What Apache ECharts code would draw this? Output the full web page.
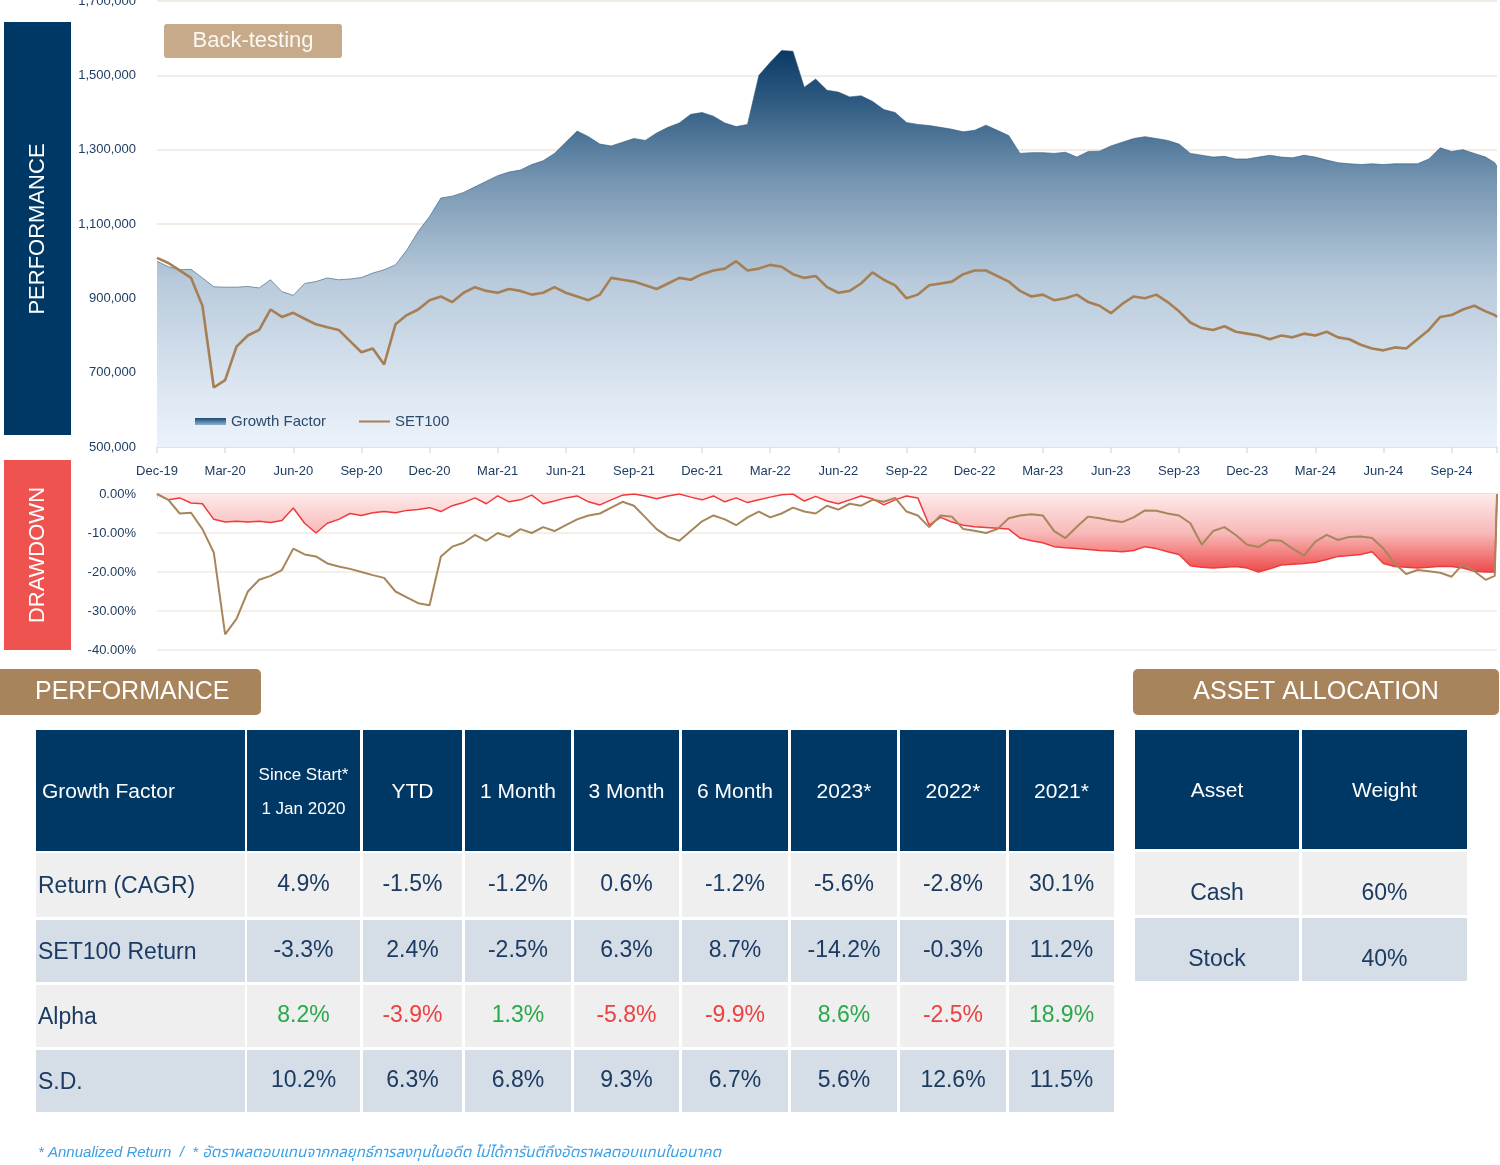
<!DOCTYPE html>
<html>
<head>
<meta charset="utf-8">
<script src="https://cdn.jsdelivr.net/npm/echarts@6/dist/echarts.min.js"></script>
<style>
html,body{margin:0;padding:0;background:#fff;}
#main{width:1500px;height:1165px;}
</style>
</head>
<body>
<div id="main"></div>
<script>
// ---------- DATA ----------
// x position in months after 31-Dec-2019
const months = [0,0.5,1,1.5,2,2.5,3,3.5,4,4.5,5,5.5,6,6.5,7,7.5,8,8.5,9,9.5,
10,10.5,11,11.5,12,12.5,13,13.5,14,14.5,15,15.5,16,16.5,17,17.5,18,18.5,19,19.5,
20,20.5,21,21.5,22,22.5,23,23.5,24,24.5,25,25.5,26,26.5,27,27.5,28,28.5,29,29.5,
30,30.5,31,31.5,32,32.5,33,33.5,34,34.5,35,35.5,36,36.5,37,37.5,38,38.5,39,39.5,
40,40.5,41,41.5,42,42.5,43,43.5,44,44.5,45,45.5,46,46.5,47,47.5,48,48.5,49,49.5,
50,50.5,51,51.5,52,52.5,53,53.5,54,54.5,55,55.5,56,56.5,57,57.5,58,58.5,58.9,59];

const quarterLabels = ['Dec-19','Mar-20','Jun-20','Sep-20','Dec-20','Mar-21','Jun-21','Sep-21','Dec-21','Mar-22',
'Jun-22','Sep-22','Dec-22','Mar-23','Jun-23','Sep-23','Dec-23','Mar-24','Jun-24','Sep-24'];

// Performance (thousand THB)
const growthFactor = [1000,985,977,978,955,931,930,930,932,928,
950,918,908,940,945,955,950,952,956,968,
977,990,1030,1080,1120,1170,1175,1185,1200,1215,
1230,1240,1245,1260,1270,1290,1320,1350,1335,1315,
1310,1320,1330,1325,1345,1360,1372,1395,1400,1390,
1372,1362,1368,1500,1535,1567,1565,1468,1490,1460,
1455,1442,1445,1430,1408,1400,1373,1368,1365,1360,
1355,1348,1352,1366,1352,1338,1290,1292,1292,1290,
1293,1280,1295,1296,1310,1320,1330,1335,1330,1325,
1315,1290,1285,1280,1282,1275,1275,1280,1285,1280,
1278,1285,1280,1272,1265,1262,1260,1262,1260,1262,
1262,1262,1275,1305,1295,1300,1290,1280,1265,1255];

const set100 = [1009,995,975,955,880,660,680,770,800,815,
870,850,861,845,830,822,815,785,755,765,
722,830,855,870,895,905,890,915,930,920,
915,925,920,910,915,930,915,905,895,910,
955,950,945,935,925,940,955,950,965,975,
980,1000,975,980,990,985,965,955,960,930,
915,920,940,970,950,935,900,910,935,940,
945,965,975,975,960,945,920,905,910,895,
900,910,890,880,860,885,905,900,910,890,
865,835,820,815,825,810,805,800,790,800,
795,805,800,810,795,790,775,765,760,768,
765,790,815,850,855,870,880,865,855,850];

// Drawdown (%)
const ddGrowthFactor = [0,-1.5,-1.0,-2.3,-2.5,-6.5,-7.2,-7.0,-7.2,-7.0,
-7.3,-6.8,-3.6,-7.5,-10.0,-7.5,-6.5,-5.0,-5.5,-4.8,
-4.5,-4.8,-4.2,-4.0,-3.5,-4.5,-3.0,-2.2,-1.0,-2.5,
-0.5,-2.0,-1.5,-0.3,-2.5,-1.8,-1.0,-0.5,-2.0,-2.8,
-1.5,-0.3,0,-0.5,-1.2,-0.5,0,-0.8,-1.5,-0.5,
-2.0,-1.0,-2.2,-1.5,-0.8,-0.2,0,-1.8,-0.6,-1.8,
-2.5,-1.5,-0.5,-1.2,-2.8,-1.5,-0.5,-1.0,-8.0,-6.0,
-7.2,-8.0,-8.4,-8.6,-8.8,-9.0,-11.3,-12.0,-12.5,-13.5,
-13.8,-14.0,-14.2,-14.5,-14.6,-14.8,-14.5,-13.5,-14.0,-14.8,
-15.5,-18.4,-18.8,-19.0,-18.8,-18.6,-19.0,-20.0,-19.2,-18.2,
-18.0,-17.8,-17.5,-16.8,-16.0,-15.8,-15.5,-14.8,-17.8,-18.6,
-18.8,-19.0,-18.8,-18.5,-18.6,-19.0,-19.8,-20.0,-20.0,0];

const ddSet100 = [0,-1.5,-5.0,-4.8,-9.0,-15.0,-36.0,-32.0,-25.0,-22.0,
-21.0,-19.5,-14.0,-15.5,-16.0,-17.8,-18.6,-19.2,-20.0,-20.8,
-21.5,-25.0,-26.5,-28.0,-28.5,-16.0,-13.5,-12.5,-10.5,-12.0,
-10.0,-11.0,-9.0,-10.0,-8.5,-9.5,-8.0,-6.5,-5.5,-5.0,
-3.5,-2.0,-3.0,-6.0,-9.0,-11.0,-12.0,-9.5,-7.0,-5.5,
-6.5,-8.0,-6.0,-4.5,-6.0,-5.0,-3.5,-4.5,-5.0,-3.0,
-4.0,-2.5,-3.0,-1.5,-2.0,-1.0,-4.5,-5.5,-8.5,-5.5,
-5.8,-9.0,-9.4,-10.0,-9.0,-6.2,-5.5,-5.2,-5.5,-9.5,
-11.3,-8.4,-5.8,-6.2,-6.8,-7.2,-6.0,-4.2,-4.3,-5.0,
-5.5,-7.5,-13.0,-9.5,-8.5,-10.5,-13.0,-13.6,-11.8,-12.0,
-14.0,-15.8,-12.2,-10.5,-11.8,-11.0,-10.9,-11.3,-14.0,-17.8,
-20.5,-19.5,-19.8,-20.2,-21.2,-18.0,-19.8,-22.0,-21.0,0];

// Tables
const perfHeaders = ['Growth Factor','Since Start*','YTD','1 Month','3 Month','6 Month','2023*','2022*','2021*'];
const sinceStartSub = '1 Jan 2020';
const rowLabels = ['Return (CAGR)','SET100 Return','Alpha','S.D.'];
const returnRow = ['4.9%','-1.5%','-1.2%','0.6%','-1.2%','-5.6%','-2.8%','30.1%'];
const set100Row = ['-3.3%','2.4%','-2.5%','6.3%','8.7%','-14.2%','-0.3%','11.2%'];
const alphaRow  = ['8.2%','-3.9%','1.3%','-5.8%','-9.9%','8.6%','-2.5%','18.9%'];
const sdRow     = ['10.2%','6.3%','6.8%','9.3%','6.7%','5.6%','12.6%','11.5%'];
const assetHeaders = ['Asset','Weight'];
const assetNames = ['Cash','Stock'];
const assetWeights = ['60%','40%'];

// ---------- RENDER ----------
const FONT = '"Liberation Sans", Arial, Helvetica, sans-serif';
const NAVY = '#003865';
const TXT = '#1b3b62';
const chart = echarts.init(document.getElementById('main'), null, {renderer:'canvas'});
const LG = echarts.graphic.LinearGradient;

function fmtComma(v){ return String(Math.round(v)).replace(/\B(?=(\d{3})+(?!\d))/g, ','); }

const gfData = months.map((m,i)=>[m, growthFactor[i]*1000]);
const setData = months.map((m,i)=>[m, set100[i]*1000]);
const ddGfData = months.map((m,i)=>[m, ddGrowthFactor[i]]);
const ddSetData = months.map((m,i)=>[m, ddSet100[i]]);

const els = [];
function rect(x,y,w,h,fill,r){ els.push({type:'rect', silent:true, shape:{x,y,width:w,height:h,r:r||0}, style:{fill}}); }
function text(x,y,t,font,fill,align,extra){
  els.push(Object.assign({type:'text', silent:true, x, y, style:{text:t, font, fill, align:align||'center', verticalAlign:'middle'}}, extra||{}));
}

// side labels
rect(4,22,67,413,NAVY);
text(38,229,'PERFORMANCE','22px '+FONT,'#ffffff','center',{rotation:Math.PI/2});
rect(4,460,67,190,'#ef5350');
text(38,555,'DRAWDOWN','22px '+FONT,'#ffffff','center',{rotation:Math.PI/2});

// back-testing badge
rect(164,24,178,34,'#c6aa89',3);
text(253,41,'Back-testing','22px '+FONT,'#fbf7f2');
text(1312,425,'Model Data as of 30 Nov 2024','15px '+FONT,'#b7bdc4');

// section headers
rect(0,669,261,46,'#a8845c',[0,5,5,0]);
text(35,692,'PERFORMANCE','25px '+FONT,'#ffffff','left');
rect(1133,669,366,46,'#a8845c',5);
text(1316,692,'ASSET ALLOCATION','25px '+FONT,'#ffffff');

// performance table
const cols = [[36,245],[247,360],[363,462],[465,571],[574,679],[682,788],[791,897],[900,1006],[1009,1114]];
const rowsY = [[853,917],[920,982],[985,1047],[1050,1112]];
const rowFill = ['#efefef','#d5dde6','#efefef','#d5dde6'];
cols.forEach((c,j)=>{
  rect(c[0],730,c[1]-c[0],121,NAVY);
  const cx = (c[0]+c[1])/2;
  if (j===0) text(42,792,perfHeaders[0],'21px '+FONT,'#ffffff','left');
  else if (j===1) { text(cx,775,perfHeaders[1],'17px '+FONT,'#ffffff'); text(cx,809,sinceStartSub,'17px '+FONT,'#ffffff'); }
  else text(cx,792,perfHeaders[j],'21px '+FONT,'#ffffff');
});
const bodyRows = [returnRow,set100Row,alphaRow,sdRow];
bodyRows.forEach((row,i)=>{
  const [y0,y1] = rowsY[i];
  const cy = (y0+y1)/2;
  cols.forEach((c,j)=>{
    rect(c[0],y0,c[1]-c[0],y1-y0,rowFill[i]);
    if (j===0) text(38,cy+2,rowLabels[i],'23px '+FONT,TXT,'left');
    else {
      const v = row[j-1];
      let col = TXT;
      if (i===2) col = v.trim().startsWith('-') ? '#ec4141' : '#2aa84a';
      text((c[0]+c[1])/2,cy,v,'23px '+FONT,col);
    }
  });
});

// asset table
const aCols = [[1135,1299],[1302,1467]];
const aRows = [[852,915],[918,981]];
aCols.forEach((c,j)=>{
  rect(c[0],730,c[1]-c[0],119,NAVY);
  text((c[0]+c[1])/2,791,assetHeaders[j],'21px '+FONT,'#ffffff');
});
assetNames.forEach((n,i)=>{
  const [y0,y1]=aRows[i];
  aCols.forEach((c,j)=>{
    rect(c[0],y0,c[1]-c[0],y1-y0,rowFill[i]);
    text((c[0]+c[1])/2,y0+42,j===0?n:assetWeights[i],'23px '+FONT,TXT);
  });
});

// footnote
text(38,1153,'* Annualized Return  /  * อัตราผลตอบแทนจากกลยุทธ์การลงทุนในอดีต ไม่ได้การันตีถึงอัตราผลตอบแทนในอนาคต',
  'italic 15px "Liberation Sans", "Noto Sans Thai", "Noto Sans", sans-serif','#3a9fe6','left');

const axisBlue = '#cfe2f3';
const option = {
  animation:false,
  backgroundColor:'#ffffff',
  textStyle:{fontFamily:FONT},
  grid:[
    {left:157, top:1, width:1340, height:446, outerBoundsMode:'none', containLabel:false},
    {left:157, top:494, width:1340, height:156, outerBoundsMode:'none', containLabel:false}
  ],
  legend:{
    left:190, top:409, itemWidth:31, itemHeight:7, itemGap:32,
    textStyle:{color:'#2c4a6b', fontSize:15, fontFamily:FONT},
    data:[
      {name:'Growth Factor', icon:'rect', itemStyle:{color:new LG(0,0,0,1,[{offset:0,color:'#1a4a75'},{offset:1,color:'#8fb0cc'}])}},
      {name:'SET100', itemStyle:{opacity:0}}
    ]
  },
  xAxis:[
    {gridIndex:0, type:'value', min:0, max:59, interval:3,
     axisLine:{lineStyle:{color:axisBlue, width:1.5}},
     axisTick:{show:true, length:6, lineStyle:{color:axisBlue, width:1.5}},
     axisLabel:{margin:18, color:'#1f3d63', fontSize:13, fontFamily:FONT,
       formatter:v=>{ const k=v/3; return Number.isInteger(k) && quarterLabels[k] ? quarterLabels[k] : ''; }},
     splitLine:{show:false}},
    {gridIndex:1, type:'value', min:0, max:59, interval:3.59, position:'top',
     axisLine:{onZero:false, lineStyle:{color:axisBlue, width:1.5}},
     axisTick:{show:true, inside:true, length:5, lineStyle:{color:axisBlue}},
     axisLabel:{show:false}, splitLine:{show:false}}
  ],
  yAxis:[
    {gridIndex:0, type:'value', min:500000, max:1700000, interval:200000,
     axisLine:{show:false}, axisTick:{show:false},
     axisLabel:{margin:21, color:'#1f3d63', fontSize:13, fontFamily:FONT, formatter:fmtComma},
     splitLine:{lineStyle:{color:'#f1ece6', width:2}}},
    {gridIndex:1, type:'value', min:-40, max:0, interval:10,
     axisLine:{show:false}, axisTick:{show:false},
     axisLabel:{margin:21, color:'#1f3d63', fontSize:13, fontFamily:FONT, formatter:v=>v.toFixed(2)+'%'},
     splitLine:{lineStyle:{color:'#efebe6', width:1.5}}}
  ],
  series:[
    {name:'Growth Factor', type:'line', xAxisIndex:0, yAxisIndex:0, data:gfData, symbol:'none',
     color:'#24507a', lineStyle:{width:0.6, color:'#2f5a80'},
     areaStyle:{origin:'start', opacity:1, color:new LG(0,0,0,1,[
       {offset:0,color:'#0a3a63'},{offset:0.13,color:'#2f5b82'},{offset:0.33,color:'#7696b2'},
       {offset:0.58,color:'#b8cadb'},{offset:0.85,color:'#dce6f1'},{offset:1,color:'#ebf2fb'}])}, z:2},
    {name:'SET100', type:'line', xAxisIndex:0, yAxisIndex:0, data:setData, symbol:'none', showSymbol:false,
     color:'#a67f55', lineStyle:{width:2.6, color:'#a67f55'}, z:3},
    {name:'GF Drawdown', type:'line', xAxisIndex:1, yAxisIndex:1, data:ddGfData, symbol:'none',
     color:'#f03a3c', lineStyle:{width:1.5, color:'#f03a3c'},
     areaStyle:{origin:'end', opacity:1, color:new LG(0,0,0,1,[
       {offset:0,color:'#feeaea'},{offset:0.5,color:'#f8b9b9'},{offset:1,color:'#ee4a4a'}])}, z:2},
    {name:'SET100 Drawdown', type:'line', xAxisIndex:1, yAxisIndex:1, data:ddSetData, symbol:'none',
     color:'#a8865c', lineStyle:{width:2, color:'#a8865c'}, z:3}
  ],
  graphic:{elements:els}
};
chart.setOption(option);
</script>
</body>
</html>
